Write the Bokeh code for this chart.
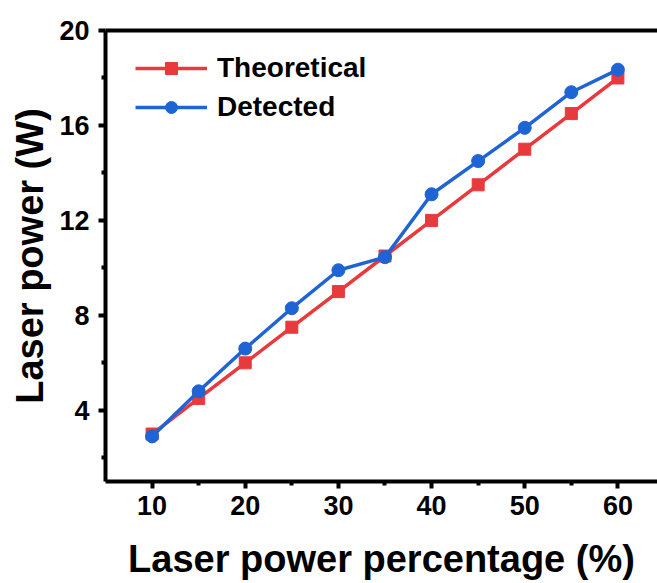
from bokeh.plotting import figure
from bokeh.models import FixedTicker, LinearAxis, Legend, LegendItem, Range1d
from bokeh.embed import file_html
from bokeh.resources import INLINE

# Data
percentage = [10, 15, 20, 25, 30, 35, 40, 45, 50, 55, 60]
theoretical = [3.0, 4.5, 6.0, 7.5, 9.0, 10.5, 12.0, 13.5, 15.0, 16.5, 18.0]
detected = [2.9, 4.8, 6.6, 8.3, 9.9, 10.45, 13.1, 14.5, 15.9, 17.4, 18.35]
x_ticks = [10, 20, 30, 40, 50, 60]
x_minor = [15, 25, 35, 45, 55]
y_ticks = [4, 8, 12, 16, 20]
y_minor = [2, 6, 10, 14, 18]

RED = "#E8393D"
BLUE = "#1F64D4"
FONT = "Liberation Sans"

p = figure(width=657, height=583, x_range=Range1d(5, 64.25), y_range=Range1d(1, 20),
           output_backend="svg", toolbar_location=None,
           min_border_left=105, min_border_right=0, min_border_top=30, min_border_bottom=102)
p.grid.visible = False
p.outline_line_color = None
p.background_fill_color = "white"

p.xaxis.ticker = FixedTicker(ticks=x_ticks, minor_ticks=x_minor)
p.yaxis.ticker = FixedTicker(ticks=y_ticks, minor_ticks=y_minor)

for ax in (p.xaxis[0], p.yaxis[0]):
    ax.axis_line_width = 4
    ax.axis_line_color = "black"
    ax.major_tick_line_width = 4
    ax.minor_tick_line_width = 4
    ax.major_tick_out = 7
    ax.major_tick_in = 0
    ax.minor_tick_out = 4
    ax.minor_tick_in = 0
    ax.major_label_text_font = FONT
    ax.major_label_text_font_style = "bold"
    ax.major_label_text_font_size = "27px"
    ax.major_label_text_color = "black"
    ax.axis_label_text_font = FONT
    ax.axis_label_text_font_style = "bold"
    ax.axis_label_text_font_size = "38px"
    ax.axis_label_text_color = "black"

p.xaxis.major_label_standoff = 7
p.yaxis.major_label_standoff = 9

p.xaxis.axis_label = "Laser power percentage (%)"
p.xaxis.axis_label_standoff = 20
p.yaxis.axis_label = "Laser power (W)"
p.yaxis.axis_label_standoff = 5

# top border line
top = LinearAxis(ticker=FixedTicker(ticks=[]), axis_line_width=4, major_tick_out=0,
                 minor_tick_out=0, major_label_text_alpha=0)
p.add_layout(top, "above")

r_line = p.line(percentage, theoretical, line_color=RED, line_width=3.5)
r_pts = p.scatter(percentage, theoretical, marker="square", size=12,
                  fill_color=RED, line_color=RED)
b_line = p.line(percentage, detected, line_color=BLUE, line_width=3.5)
b_pts = p.scatter(percentage, detected, marker="circle", size=13,
                  fill_color=BLUE, line_color=BLUE)

legend = Legend(items=[LegendItem(label="Theoretical", renderers=[r_line, r_pts]),
                       LegendItem(label="Detected", renderers=[b_line, b_pts])],
                location=(30, 358), glyph_width=72, glyph_height=30, spacing=7,
                padding=0, margin=0, label_standoff=10,
                label_text_font=FONT, label_text_font_style="bold",
                label_text_font_size="28px", label_text_color="black",
                border_line_color=None, background_fill_alpha=0)
p.add_layout(legend, "center")

open("out.html", "w").write(file_html(p, INLINE))
